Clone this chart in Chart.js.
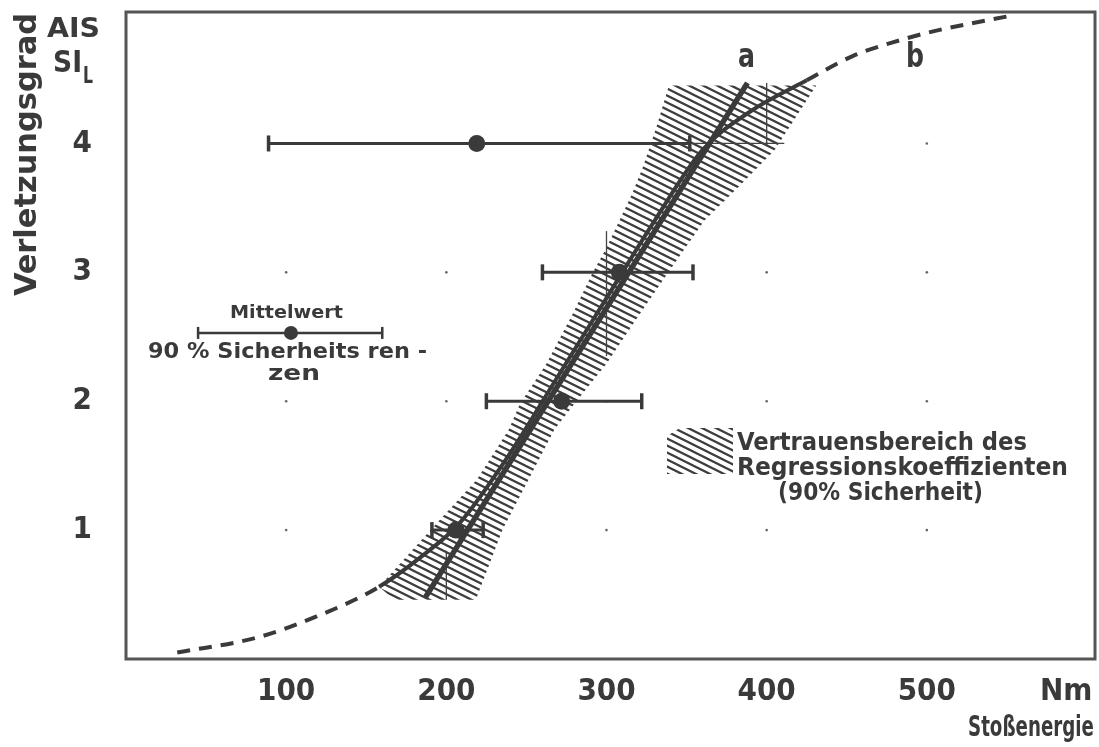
<!DOCTYPE html>
<html><head><meta charset="utf-8">
<script src="https://cdn.jsdelivr.net/npm/chart.js@4/dist/chart.umd.min.js"></script>
<style>html,body{margin:0;padding:0;background:#fff}#wrap{width:1099px;height:747px;position:relative}</style>
</head><body><div id="wrap"><canvas id="c" width="1099" height="747"></canvas></div>
<script>
// ---- data ----
const levels = [1, 2, 3, 4];
const meanEnergy  = [206, 272, 308, 219];
const lowerEnergy = [191, 225, 260, 89];
const upperEnergy = [223, 322, 354, 352];
const xTickValues = [100, 200, 300, 400, 500];
const xUnitTick = 587; // position of "Nm"
const yTickValues = [1, 2, 3, 4];
// regression line a
const lineAx = [187, 388];
const lineAy = [0.48, 4.47];
// curve b
const curveBx = [32, 83, 119, 158, 185, 208, 240, 270, 300, 330, 360, 390, 425, 454, 483, 504, 552];
const curveBy = [0.05, 0.17, 0.33, 0.56, 0.8, 1.05, 1.6, 2.2, 2.8, 3.4, 3.95, 4.25, 4.49, 4.68, 4.80, 4.87, 4.99];
// confidence band polygon (right edge top->bottom, then left edge bottom->top)
const bandX = [431, 405, 383, 361, 338, 321, 300, 280, 267.5, 250, 235, 227, 219, 217.5, 167.5, 158, 177, 196, 219, 239, 246, 262.5, 279, 291, 300, 316, 322.5, 331, 339];
const bandY = [4.45, 3.95, 3.67, 3.40, 2.99, 2.68, 2.29, 1.98, 1.78, 1.36, 1.00, 0.74, 0.48, 0.46, 0.46, 0.56, 0.82, 1.08, 1.39, 1.78, 1.98, 2.29, 2.68, 2.99, 3.19, 3.61, 3.81, 4.12, 4.45];
// thin construction lines [x0,y0,x1,y1]
const helperLines = [[400, 3.98, 400, 4.47], [352, 4, 411, 4], [300, 2.35, 300, 3.32], [200, 0.46, 200, 0.84]];
// legend sample (Mittelwert / 90 % Sicherheitsgrenzen)
const sampleMean = 103, sampleLow = 45, sampleHigh = 160, sampleLevel = 2.53;

const FONT = "'DejaVu Sans Condensed','DejaVu Sans',sans-serif";
const INK = '#3a3a3a';

const canvas = document.getElementById('c');
const ctx0 = canvas.getContext('2d');
function makeHatch() {
  const t = document.createElement('canvas'); t.width = 14; t.height = 7;
  const g = t.getContext('2d');
  g.strokeStyle = '#3c3c3c'; g.lineWidth = 2.3;
  for (let k = -1; k <= 1; k++) { g.beginPath(); g.moveTo(-2, -1 + 7 * k); g.lineTo(16, 8 + 7 * k); g.stroke(); }
  return ctx0.createPattern(t, 'repeat');
}
const hatch = makeHatch();

const datasets = [];
datasets.push({ type: 'line', data: bandX.map((x, i) => ({ x, y: bandY[i] })), fill: 'shape', backgroundColor: hatch,
  borderWidth: 0, pointRadius: 0, tension: 0, order: 20 });
const dots = [];
xTickValues.forEach(x => yTickValues.forEach(y => dots.push({ x, y })));
datasets.push({ type: 'scatter', data: dots, pointRadius: 1.3, backgroundColor: '#666', borderWidth: 0, order: 19 });
helperLines.forEach(l => datasets.push({ type: 'line', data: [{ x: l[0], y: l[1] }, { x: l[2], y: l[3] }],
  borderColor: '#444', borderWidth: 1.3, pointRadius: 0, fill: false, order: 15 }));
datasets.push({ type: 'line', data: lineAx.map((x, i) => ({ x, y: lineAy[i] })), borderColor: INK, borderWidth: 5.5,
  pointRadius: 0, fill: false, order: 10 });
datasets.push({ type: 'line', data: curveBx.map((x, i) => ({ x, y: curveBy[i] })), borderColor: INK, borderWidth: 4,
  pointRadius: 0, fill: false, cubicInterpolationMode: 'monotone', order: 9,
  segment: { borderDash: c => (c.p1DataIndex <= 3 || c.p0DataIndex >= 12) ? [13, 9] : undefined } });
const barStyle = { type: 'line', borderColor: INK, borderWidth: 3, pointStyle: 'line', rotation: 90, pointRadius: 8,
  pointBorderWidth: 3.5, pointBorderColor: INK, fill: false, order: 5 };
levels.forEach((lv, i) => datasets.push(Object.assign({}, barStyle,
  { data: [{ x: lowerEnergy[i], y: lv }, { x: upperEnergy[i], y: lv }] })));
datasets.push(Object.assign({}, barStyle, { borderWidth: 2.5, pointRadius: 6, pointBorderWidth: 2.5,
  data: [{ x: sampleLow, y: sampleLevel }, { x: sampleHigh, y: sampleLevel }] }));
datasets.push({ type: 'scatter', data: levels.map((lv, i) => ({ x: meanEnergy[i], y: lv })), pointRadius: 8.5,
  backgroundColor: INK, borderWidth: 0, order: 1 });
datasets.push({ type: 'scatter', data: [{ x: sampleMean, y: sampleLevel }], pointRadius: 7,
  backgroundColor: INK, borderWidth: 0, order: 1 });

function fitText(ctx, text, x, y, w, size, rot) {
  ctx.save();
  ctx.font = `bold ${size}px ${FONT}`;
  const m = ctx.measureText(text).width;
  ctx.translate(x, y);
  if (rot) ctx.rotate(rot);
  ctx.scale(w / m, 1);
  ctx.textAlign = 'left'; ctx.textBaseline = 'alphabetic';
  ctx.fillStyle = INK;
  ctx.fillText(text, 0, 0);
  ctx.restore();
}

const decor = {
  id: 'decor',
  afterDraw(chart) {
    const ctx = chart.ctx, a = chart.chartArea;
    ctx.save();
    ctx.strokeStyle = '#555'; ctx.lineWidth = 3;
    ctx.strokeRect(a.left, a.top, a.right - a.left, a.bottom - a.top);
    // legend hatch sample
    ctx.fillStyle = hatch;
    ctx.beginPath();
    ctx.moveTo(680, 428); ctx.lineTo(733, 428); ctx.lineTo(733, 474); ctx.lineTo(667, 474); ctx.lineTo(667, 436); ctx.closePath();
    ctx.fill();
    ctx.restore();
    fitText(ctx, 'Verletzungsgrad', 36, 296, 283, 30, -Math.PI / 2);
    fitText(ctx, 'AIS', 47, 37, 53, 26);
    fitText(ctx, 'SI', 53, 72, 29, 30);
    fitText(ctx, 'L', 83, 83, 10, 23);
    fitText(ctx, 'a', 738, 67, 17, 33);
    fitText(ctx, 'b', 906, 67, 18, 34);
    fitText(ctx, 'Mittelwert', 230, 318, 113, 18);
    fitText(ctx, '90 % Sicherheits ren -', 148, 358, 279, 22);
    fitText(ctx, 'zen', 268, 380, 52, 22);
    fitText(ctx, 'Vertrauensbereich des', 737, 450, 290, 25);
    fitText(ctx, 'Regressionskoeffizienten', 737, 475, 331, 25);
    fitText(ctx, '(90% Sicherheit)', 778, 500, 205, 25);
    fitText(ctx, 'Stoßenergie', 968, 736, 126, 29);
  }
};

function zeroPad(s) { s.paddingTop = 0; s.paddingBottom = 0; s.paddingLeft = 0; s.paddingRight = 0; }

new Chart(canvas, {
  data: { datasets },
  options: {
    responsive: false, animation: false, devicePixelRatio: 1,
    layout: { autoPadding: false, padding: { left: 0, right: 4, top: 12, bottom: 0 } },
    plugins: { legend: { display: false }, tooltip: { enabled: false } },
    scales: {
      x: { type: 'linear', min: 0, max: 605, grid: { display: false }, border: { display: false },
        afterBuildTicks: s => { s.ticks = xTickValues.map(v => ({ value: v })).concat([{ value: xUnitTick }]); },
        afterFit: s => { s.height = 88; zeroPad(s); },
        ticks: { color: INK, padding: 6, maxRotation: 0, autoSkip: false, font: { family: FONT, size: 31, weight: 'bold' },
          callback: v => v === xUnitTick ? 'Nm' : String(v) } },
      y: { type: 'linear', min: 0, max: 5.02, grid: { display: false }, border: { display: false },
        afterBuildTicks: s => { s.ticks = yTickValues.map(v => ({ value: v })); },
        afterFit: s => { s.width = 126; zeroPad(s); },
        ticks: { color: INK, padding: 26, font: { family: FONT, size: 31, weight: 'bold' } } }
    }
  },
  plugins: [decor]
});
</script></body></html>
